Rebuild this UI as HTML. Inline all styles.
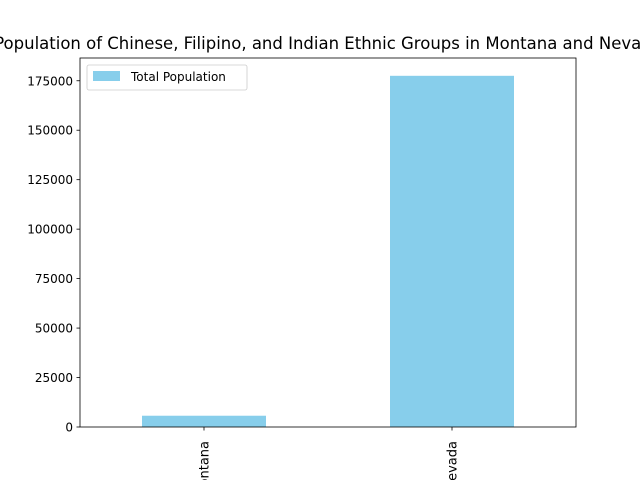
<!DOCTYPE html>
<html><head><meta charset="utf-8"><style>
html,body{margin:0;padding:0;background:#fff;overflow:hidden;width:640px;height:480px}
text{font-family:"DejaVu Sans","Liberation Sans",sans-serif}
</style></head><body>
<svg id="chart" width="640" height="480" xmlns="http://www.w3.org/2000/svg">
<rect width="640" height="480" fill="#fff"/>
<text x="328" y="49" font-size="16.5" text-anchor="middle">Population of Chinese, Filipino, and Indian Ethnic Groups in Montana and Nevada</text>
<g id="plot"></g>
</svg>
<script>
const categories = ["Montana", "Nevada"];
const totalPopulation = [5700, 177500];
const yTicks = [0, 25000, 50000, 75000, 100000, 125000, 150000, 175000];

const L=80,R=576,T=58,B=427;
const yMax = 186500;
const x = i => L + (R-L)*(i+0.5)/categories.length;
const y = v => B - (B-T)*v/yMax;
const bw = (R-L)/categories.length*0.5;
const g = document.getElementById('plot');
const ns='http://www.w3.org/2000/svg';
function mk(tag, attrs){const e=document.createElementNS(ns,tag);for(const k in attrs)e.setAttribute(k,attrs[k]);g.appendChild(e);return e;}

categories.forEach((c,i)=>{
  const r=mk('rect',{x:x(i)-bw/2,y:y(totalPopulation[i]),width:bw,height:B-y(totalPopulation[i]),fill:'#87ceeb'});
  
  
  const t=mk('line',{x1:x(i),x2:x(i),y1:B,y2:B+3.5,stroke:'#000','stroke-width':0.8});
  
  
  const lb=mk('text',{x:0,y:0,'font-size':13,'text-anchor':'end',transform:`translate(${x(i)+4.5},${B+14}) rotate(-90)`});
  lb.textContent=c;
  
  
});
yTicks.forEach(v=>{
  const t=mk('line',{x1:L-3.5,x2:L,y1:y(v),y2:y(v),stroke:'#000','stroke-width':0.8});
  
  
  const lb=mk('text',{x:L-7,y:y(v)+4.5,'font-size':12,'text-anchor':'end'});
  lb.textContent=v;
  
  
});
const fr=mk('rect',{x:L,y:T,width:R-L,height:B-T,fill:'none',stroke:'#000','stroke-width':0.8});


const lg=mk('rect',{x:87,y:65,width:160,height:25,rx:2,fill:'#fff',stroke:'#ccc','stroke-width':0.8});


const sw=mk('rect',{x:93,y:71,width:27,height:10,fill:'#87ceeb'});


const lt=mk('text',{x:131,y:81,'font-size':12});
lt.textContent='Total Population';


</script>
</body></html>
